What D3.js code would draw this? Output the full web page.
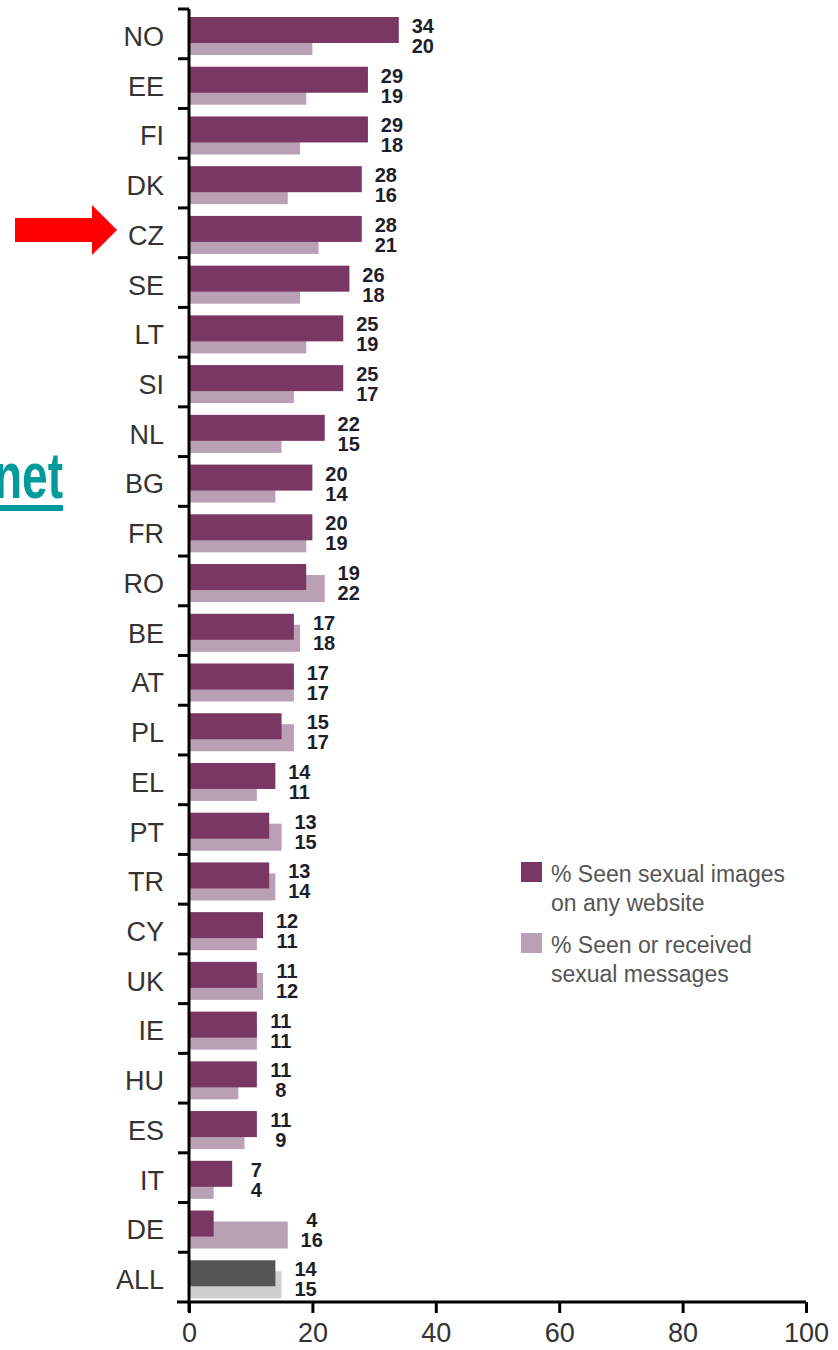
<!doctype html>
<html lang="en">
<head>
<meta charset="utf-8">
<script src="https://d3js.org/d3.v7.min.js"></script>
<style>
  body { margin: 0; background: #fff; }
  svg { display: block; font-family: "Liberation Sans", Arial, sans-serif; }
</style>
</head>
<body>
<div id="chart"></div>
<script>
// data
var countries = ["NO","EE","FI","DK","CZ","SE","LT","SI","NL","BG","FR","RO","BE","AT","PL","EL","PT","TR","CY","UK","IE","HU","ES","IT","DE","ALL"];
var seenImages = [34,29,29,28,28,26,25,25,22,20,20,19,17,17,15,14,13,13,12,11,11,11,11,7,4,14];
var seenMessages = [20,19,18,16,21,18,19,17,15,14,19,22,18,17,17,11,15,14,11,12,11,8,9,4,16,15];
var xTicks = [0,20,40,60,80,100];
var legendLabels = [["% Seen sexual images","on any website"],["% Seen or received","sexual messages"]];

var W = 838, H = 1350;
var svg = d3.select("#chart").append("svg").attr("width", W).attr("height", H);

var x = d3.scaleLinear().domain([0,100]).range([189, 806]);
var y = d3.scaleBand().domain(countries).range([9, 1302]);

var dark = "#7a3763", light = "#b9a0b4";
var rows = countries.map(function(c, i){ return {c: c, a: seenImages[i], b: seenMessages[i]}; });

// light bars behind
svg.append("g").selectAll("rect").data(rows).join("rect")
  .attr("x", x(0))
  .attr("y", function(d){ return y(d.c) + 19; })
  .attr("width", function(d){ return x(d.b) - x(0); })
  .attr("height", 27)
  .attr("fill", function(d){ return d.c == "ALL" ? "#cfcfcf" : light; });

// dark bars on top
svg.append("g").selectAll("rect").data(rows).join("rect")
  .attr("x", x(0))
  .attr("y", function(d){ return y(d.c) + 8; })
  .attr("width", function(d){ return x(d.a) - x(0); })
  .attr("height", 26)
  .attr("fill", function(d){ return d.c == "ALL" ? "#555555" : dark; });

// value labels
var vl = svg.append("g").attr("font-weight", "bold").attr("font-size", 20)
  .attr("fill", "#1e1e2a").attr("text-anchor", "middle");
rows.forEach(function(d){
  var cx = x(Math.max(d.a, d.b)) + 24;
  vl.append("text").attr("x", cx).attr("y", y(d.c) + 24).text(d.a);
  vl.append("text").attr("x", cx).attr("y", y(d.c) + 44).text(d.b);
});

// category labels
svg.append("g").selectAll("text").data(countries).join("text")
  .attr("x", 164)
  .attr("y", function(c){ return y(c) + y.bandwidth()/2 + 12; })
  .attr("text-anchor", "end")
  .attr("font-size", 27)
  .attr("fill", "#333")
  .text(function(c){ return c; });

// y axis: line + ticks at band tops
var ax = svg.append("g").attr("stroke", "#000").attr("stroke-width", 3);
ax.append("line").attr("x1", x(0)).attr("x2", x(0)).attr("y1", y.range()[0]).attr("y2", y.range()[1] + 10);
ax.selectAll(".t").data(countries).join("line").attr("class", "t")
  .attr("x1", 178).attr("x2", x(0))
  .attr("y1", function(c){ return y(c); }).attr("y2", function(c){ return y(c); });
ax.append("line").attr("x1", 177).attr("x2", x(100)).attr("y1", y.range()[1]).attr("y2", y.range()[1]);

// x axis
var xa = svg.append("g").attr("transform", "translate(0," + y.range()[1] + ")")
  .call(d3.axisBottom(x).tickValues(xTicks).tickSize(11).tickSizeOuter(0).tickPadding(10));
xa.select(".domain").remove();
xa.selectAll(".tick line").attr("stroke", "#000").attr("stroke-width", 3);
xa.selectAll(".tick text").attr("font-size", 27).attr("fill", "#333")
  .attr("font-family", "Liberation Sans, Arial, sans-serif");

// legend
var lg = svg.append("g");
legendLabels.forEach(function(lines, i){
  var top = 862 + i * 71;
  lg.append("rect").attr("x", 521).attr("y", top).attr("width", 21).attr("height", 20)
    .attr("fill", i == 0 ? dark : light);
  lines.forEach(function(t, j){
    lg.append("text").attr("x", 551).attr("y", top + 20 + j * 29)
      .attr("font-size", 23).attr("fill", "#555").text(t);
  });
});

// red arrow pointing at CZ
svg.append("path")
  .attr("d", "M15,218 L92,218 L92,205 L117,230 L92,255 L92,242 L15,242 Z")
  .attr("fill", "#ff0000");

// cut-off teal word at left edge
var tw = svg.append("g").attr("fill", "#009a9a");
tw.append("text").attr("y", 498)
  .attr("transform", "translate(63,0) scale(0.72,1) translate(-63,0)")
  .attr("x", 63).attr("text-anchor", "end")
  .attr("font-size", 64).attr("font-weight", "bold")
  .attr("font-family", "Liberation Sans, Arial, sans-serif")
  .text("Internet");
tw.append("rect").attr("x", 0).attr("y", 505).attr("width", 63).attr("height", 6);
</script>
</body>
</html>
